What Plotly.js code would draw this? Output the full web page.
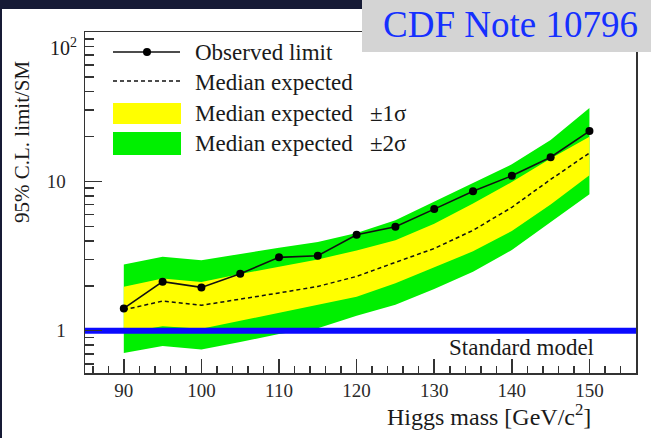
<!DOCTYPE html>
<html>
<head>
<meta charset="utf-8">
<script src="https://cdn.plot.ly/plotly-3.0.1.min.js"></script>
<style>
html,body{margin:0;padding:0;background:#161a35;}
#chart{width:651px;height:438px;}
</style>
</head>
<body>
<div id="chart"></div>
<script>
// Higgs mass points (GeV/c^2)
const mass = [90, 95, 100, 105, 110, 115, 120, 125, 130, 135, 140, 145, 150];
// 95% C.L. limit / SM
const observed = [1.41, 2.13, 1.95, 2.41, 3.10, 3.18, 4.39, 4.96, 6.52, 8.6, 10.9, 14.5, 21.7];
const expected = [1.38, 1.58, 1.48, 1.62, 1.79, 1.98, 2.31, 2.87, 3.55, 4.7, 6.7, 10.3, 15.5];
const up1sigma = [1.97, 2.24, 2.12, 2.40, 2.68, 3.0, 3.45, 4.03, 5.2, 7.1, 9.9, 14.2, 19.9];
const dn1sigma = [0.97, 1.07, 1.03, 1.16, 1.32, 1.49, 1.69, 2.08, 2.66, 3.4, 4.65, 7.0, 11.0];
const up2sigma = [2.78, 3.13, 2.96, 3.27, 3.6, 3.92, 4.52, 5.5, 7.35, 9.7, 13.0, 18.9, 31];
const dn2sigma = [0.71, 0.79, 0.75, 0.84, 0.95, 1.04, 1.26, 1.49, 1.9, 2.48, 3.47, 5.3, 8.2];
// Standard model reference level
const smX = [85, 156];
const smY = [1, 1];
// tick labels
const xTickVals = [90, 100, 110, 120, 130, 140, 150];
const xTickText = ['90', '100', '110', '120', '130', '140', '150'];
const yTickVals = [1, 10];
const yTickText = ['1', '10'];
const legendLabels = ['Observed limit', 'Median expected', 'Median expected\u00a0\u00a0\u00a0\u00b11\u03c3', 'Median expected\u00a0\u00a0\u00a0\u00b12\u03c3'];

const SERIF = 'Liberation Serif, DejaVu Serif, serif';
const rev = a => a.slice().reverse();

const xMinor = [];
for (let v = 86; v <= 156; v += 2) if (v % 10 !== 0) xMinor.push(v);
const yMinor = [0.6, 0.7, 0.8, 0.9, 2, 3, 4, 5, 6, 7, 8, 9, 20, 30, 40, 50, 60, 70, 80, 90];

const traces = [
  {x: mass.concat(rev(mass)), y: up2sigma.concat(rev(dn2sigma)), type: 'scatter', mode: 'lines',
   fill: 'toself', fillcolor: '#00f000', line: {width: 0}, hoverinfo: 'skip'},
  {x: mass.concat(rev(mass)), y: up1sigma.concat(rev(dn1sigma)), type: 'scatter', mode: 'lines',
   fill: 'toself', fillcolor: '#ffff00', line: {width: 0}, hoverinfo: 'skip'},
  {x: mass, y: expected, type: 'scatter', mode: 'lines',
   line: {color: '#111', width: 1.5, dash: '4px,3px'}},
  {x: smX, y: smY, type: 'scatter', mode: 'lines', line: {color: '#0a0aff', width: 6}},
  {x: mass, y: observed, type: 'scatter', mode: 'lines+markers',
   line: {color: '#111', width: 1.6}, marker: {color: '#000', size: 8}}
];

// pixel helpers (plot area: x 85..636, y 32..373)
const px = p => (p - 85) / 551;
const py = p => (373 - p) / 341;

const shapes = [
  {type: 'rect', xref: 'paper', yref: 'paper', x0: px(2), x1: px(660), y0: py(450), y1: py(9),
   fillcolor: '#ffffff', line: {width: 0}, layer: 'below'},
  // legend samples
  {type: 'line', xref: 'paper', yref: 'paper', x0: px(113), x1: px(180), y0: py(52), y1: py(52),
   line: {color: '#111', width: 1.6}},
  {type: 'circle', xref: 'paper', yref: 'paper', x0: px(143), x1: px(151), y0: py(56), y1: py(48),
   fillcolor: '#000', line: {color: '#000', width: 0}},
  {type: 'line', xref: 'paper', yref: 'paper', x0: px(113), x1: px(180), y0: py(81), y1: py(81),
   line: {color: '#111', width: 1.5, dash: '4px,3px'}},
  {type: 'rect', xref: 'paper', yref: 'paper', x0: px(113), x1: px(181), y0: py(124), y1: py(103),
   fillcolor: '#ffff00', line: {width: 0}},
  {type: 'rect', xref: 'paper', yref: 'paper', x0: px(113), x1: px(181), y0: py(155), y1: py(132),
   fillcolor: '#00f000', line: {width: 0}},
  // note box
  {type: 'rect', xref: 'paper', yref: 'paper', x0: px(362), x1: px(660), y0: py(52), y1: py(-5),
   fillcolor: '#d4d4d4', line: {width: 0}, layer: 'above'}
];

const txt = (text, x, y, size, extra) => Object.assign({
  text: text, xref: 'paper', yref: 'paper', x: x, y: y, showarrow: false,
  xanchor: 'left', yanchor: 'middle', font: {family: SERIF, size: size, color: '#1a1a1a'}
}, extra || {});

const annotations = [
  txt(legendLabels[0], px(193), py(53), 23),
  txt(legendLabels[1], px(193), py(82), 23),
  txt(legendLabels[2], px(193), py(113), 23),
  txt(legendLabels[3], px(193), py(143), 23),
  txt('10<sup>2</sup>', px(79), py(47), 20, {xanchor: 'right'}),
  txt('95% C.L. limit/SM', px(22), py(142), 21, {xanchor: 'center', textangle: -90}),
  txt('Higgs mass [GeV/c<sup>2</sup>]', px(593), py(415), 24, {xanchor: 'right'}),
  txt('Standard model', px(521), py(347), 23, {xanchor: 'center'}),
  txt('CDF Note 10796', px(510), py(24), 37, {xanchor: 'center', font: {family: SERIF, size: 37, color: '#1530ff'}})
];

const layout = {
  width: 651, height: 438,
  margin: {l: 85, r: 15, t: 32, b: 65, pad: 0},
  paper_bgcolor: '#161a35', plot_bgcolor: '#ffffff',
  showlegend: false,
  xaxis: {
    range: [85, 156], tickmode: 'array', tickvals: xTickVals, ticktext: xTickText,
    ticks: 'inside', ticklen: 14, tickwidth: 1.5, tickcolor: '#333',
    minor: {tickmode: 'array', tickvals: xMinor, ticks: 'inside', ticklen: 7, tickwidth: 1.5, tickcolor: '#333'},
    showline: true, mirror: true, linecolor: '#333', linewidth: 1.5,
    showgrid: false, zeroline: false, ticklabelstandoff: 0,
    tickfont: {family: SERIF, size: 19, color: '#2a2a2a'}
  },
  yaxis: {
    type: 'log', range: [-0.283, 2], tickmode: 'array', tickvals: yTickVals, ticktext: yTickText,
    ticks: 'inside', ticklen: 17, tickwidth: 1.5, tickcolor: '#333',
    minor: {tickmode: 'array', tickvals: yMinor, ticks: 'inside', ticklen: 9, tickwidth: 1.5, tickcolor: '#333'},
    showline: true, mirror: true, linecolor: '#333', linewidth: 1.5,
    showgrid: false, zeroline: false, ticklabelstandoff: 14,
    tickfont: {family: SERIF, size: 19, color: '#2a2a2a'}
  },
  shapes: shapes,
  annotations: annotations
};

Plotly.newPlot('chart', traces, layout, {displayModeBar: false, staticPlot: true});
</script>
</body>
</html>
